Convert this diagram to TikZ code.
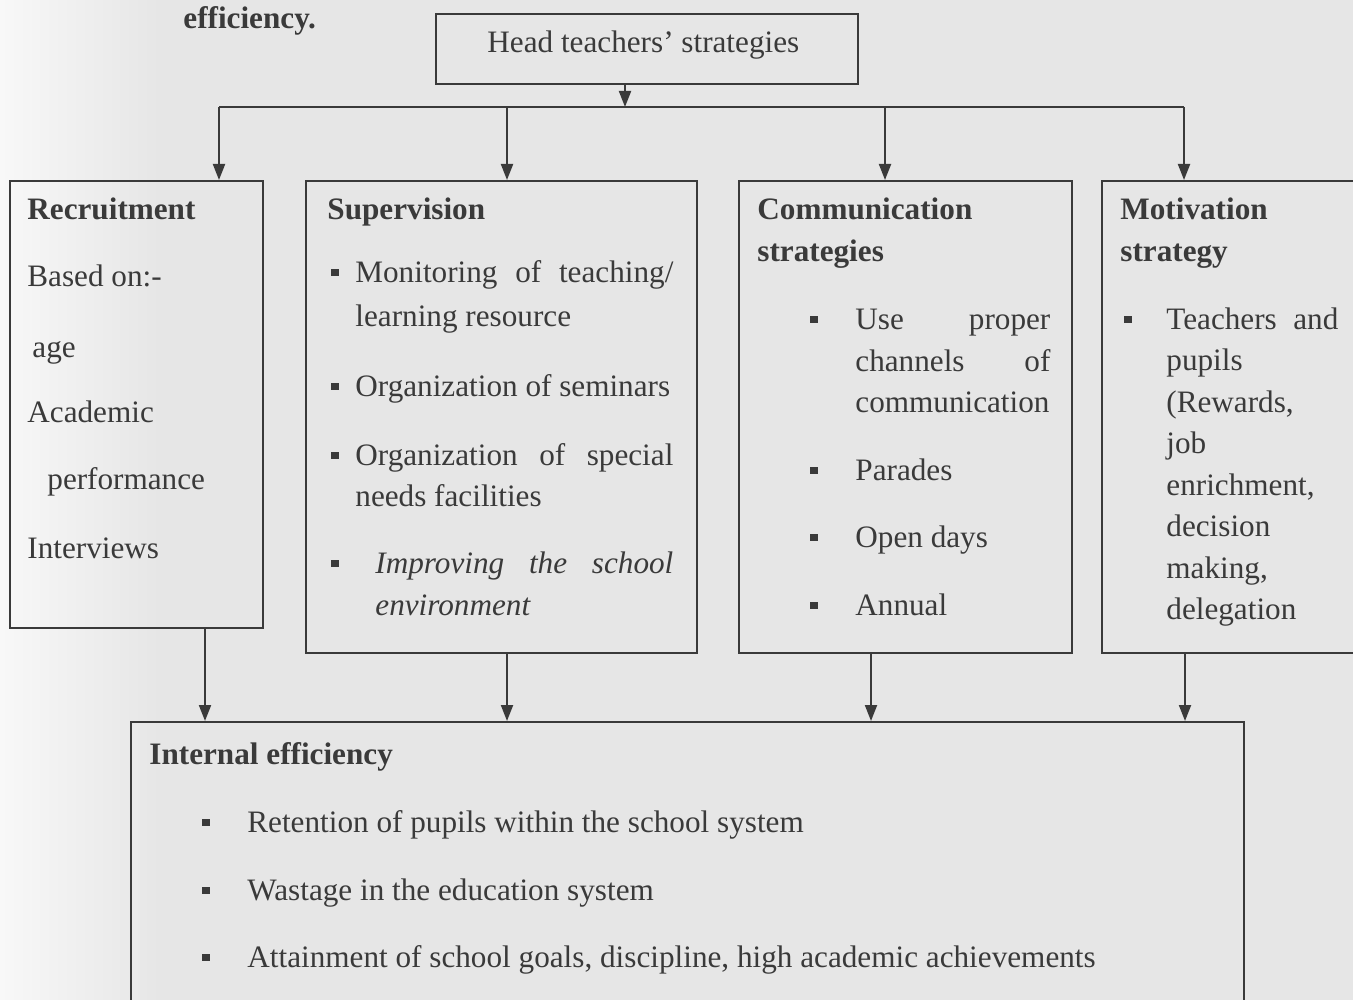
\documentclass[tikz,border=0pt]{standalone}
\usepackage{fontspec}
\setmainfont{Liberation Serif}
\usetikzlibrary{arrows.meta}
\definecolor{ink}{HTML}{3A3A3A}
\definecolor{paper}{HTML}{E6E6E6}
\definecolor{paperl}{HTML}{F8F8F8}
\newcommand{\sq}[1]{\makebox[#1][l]{\rule[0.2em]{3.6pt}{3.6pt}}}
\newcommand{\jline}[2]{\makebox[#1][s]{#2}}

\begin{document}
\begin{tikzpicture}[x=0.5pt,y=-0.5pt,
  box/.style={draw=ink,line width=1pt,inner sep=0pt,anchor=north west},
  txt/.style={inner sep=0pt,anchor=base west,yshift=-1pt,text=ink,font=\fontsize{15.6}{21}\selectfont},
  hd/.style={txt,font=\fontsize{15.6}{21}\selectfont\bfseries},
  arr/.style={draw=ink,line width=1pt,-{Triangle[length=8pt,width=6pt]}},
  link/.style={draw=ink,line width=1pt}]
\useasboundingbox (0,0) rectangle (1353,1000);
\clip (0,0) rectangle (1353,1000);
\fill[paper] (0,0) rectangle (1353,1000);
\shade[left color=paperl,right color=paper] (0,0) rectangle (160,1000);

\node[box,minimum width=211pt,minimum height=35pt] (head) at (435,13) {};
\node[box,minimum width=126.5pt,minimum height=223.5pt] (rec) at (9,180) {};
\node[box,minimum width=195.5pt,minimum height=236pt] (sup) at (305,180) {};
\node[box,minimum width=166.5pt,minimum height=236pt] (com) at (738,180) {};
\node[box,minimum width=140pt,minimum height=236pt] (mot) at (1101,180) {};
\node[box,minimum width=556.5pt,minimum height=160pt] (eff) at (130,721) {};

\node[hd] (effcap) at (183,27) {efficiency.};
\node[txt] (headt) at (487,51) {Head teachers' strategies};

\node[hd] (rect) at (27,218) {Recruitment};
\node[txt] (rec1) at (27,284) {Based on:-};
\node[txt] (rec2) at (32,355) {age};
\node[txt] (rec3) at (27,420) {Academic};
\node[txt] (rec4) at (47,487) {performance};
\node[txt] (rec5) at (27,556) {Interviews};

\node[hd] (supt) at (327,218) {Supervision};
\node[txt] (sup1) at (331,280) {\sq{12pt}\jline{159pt}{Monitoring of teaching/}};
\node[txt] (sup1b) at (355,324) {learning resource};
\node[txt] (sup2) at (331,394) {\sq{12pt}Organization of seminars};
\node[txt] (sup3) at (331,463) {\sq{12pt}\jline{159pt}{Organization of special}};
\node[txt] (sup3b) at (355,504) {needs facilities};
\node[txt] (sup4) at (331,571) {\sq{22pt}\jline{149pt}{\itshape Improving the school}};
\node[txt] (sup4b) at (375,613) {\itshape environment};

\node[hd] (comt) at (757,218) {Communication};
\node[hd] (comt2) at (757,259) {strategies};
\node[txt] (com1) at (810,327) {\sq{22.5pt}\jline{97.5pt}{Use proper}};
\node[txt] (com1b) at (855,369) {\jline{97.5pt}{channels of}};
\node[txt] (com1c) at (855,410) {communication};
\node[txt] (com2) at (810,478) {\sq{22.5pt}Parades};
\node[txt] (com3) at (810,545) {\sq{22.5pt}Open days};
\node[txt] (com4) at (810,613) {\sq{22.5pt}Annual};

\node[hd] (mott) at (1120,218) {Motivation};
\node[hd] (mott2) at (1120,259) {strategy};
\node[txt] (mot1) at (1124,327) {\sq{21pt}\jline{86pt}{Teachers and}};
\foreach \t [count=\i] in {{pupils},{(Rewards,},{job},{enrichment,},{decision},{making,},{delegation}}
  \node[txt] (mot1\i) at (1166,327+41.5*\i) {\t};

\node[hd] (efft) at (149,762) {Internal efficiency};
\node[txt] (eff1) at (202,830) {\sq{22.5pt}Retention of pupils within the school system};
\node[txt] (eff2) at (202,898) {\sq{22.5pt}Wastage in the education system};
\node[txt] (eff3) at (202,965) {\sq{22.5pt}Attainment of school goals, discipline, high academic achievements};

\coordinate (split) at (625,107);
\coordinate (t1) at (219,107);
\coordinate (t2) at (507,107);
\coordinate (t3) at (885,107);
\coordinate (t4) at (1184,107);
\draw[arr] (head.south -| split) -- (split);
\draw[link] (t1) -- (t4);
\draw[arr] (t1) -- (t1 |- rec.north);
\draw[arr] (t2) -- (t2 |- sup.north);
\draw[arr] (t3) -- (t3 |- com.north);
\draw[arr] (t4) -- (t4 |- mot.north);

\coordinate (b1) at (205,721);
\coordinate (b2) at (507,721);
\coordinate (b3) at (871,721);
\coordinate (b4) at (1185,721);
\draw[arr] (b1 |- rec.south) -- (b1);
\draw[arr] (b2 |- sup.south) -- (b2);
\draw[arr] (b3 |- com.south) -- (b3);
\draw[arr] (b4 |- mot.south) -- (b4);
\end{tikzpicture}
\end{document}
